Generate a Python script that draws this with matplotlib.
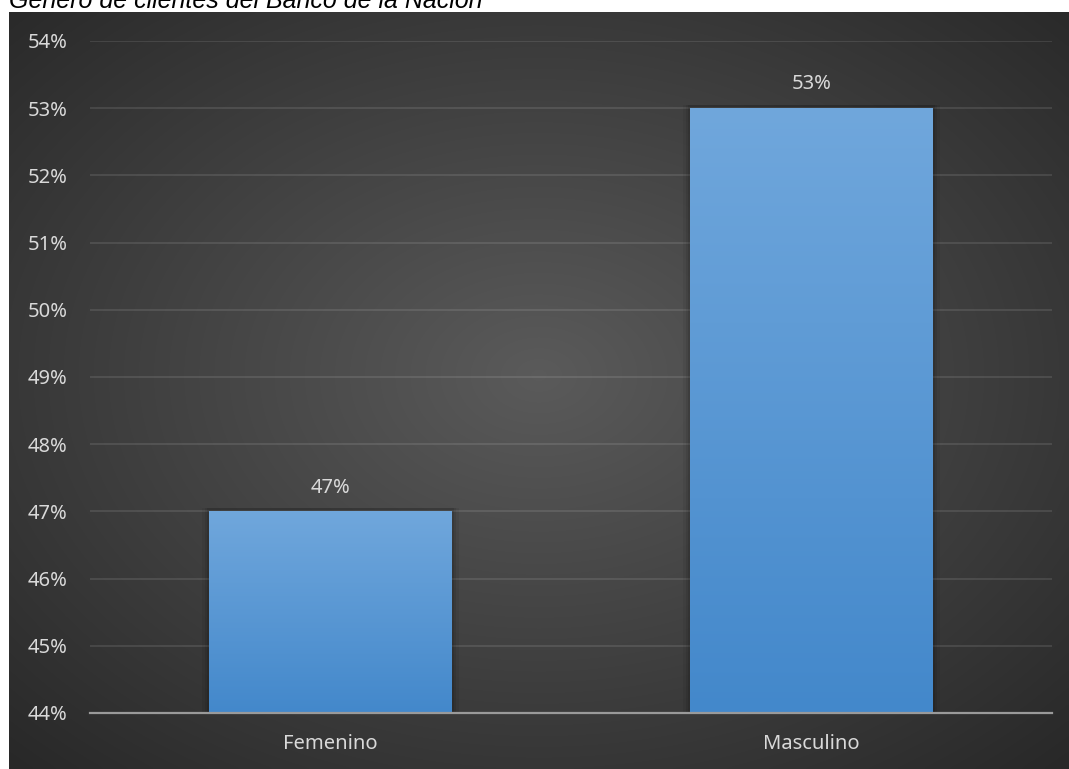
import numpy as np
from matplotlib import pyplot as plt
from matplotlib.ticker import FuncFormatter

categories = ['Femenino', 'Masculino']
values = [47, 53]
title = 'Género de clientes del Banco de la Nación'

W, H = 1069, 769
fig = plt.figure(figsize=(W / 100, H / 100), dpi=100)
fig.patch.set_facecolor('white')

# dark panel with radial gradient
bg = fig.add_axes([9 / W, 0, 1 - 9 / W, 757 / H])
bg.set_axis_off()
yy, xx = np.mgrid[0:1:300j, 0:1:400j]
r = np.sqrt(((xx - 0.5) / 0.8) ** 2 + ((yy - 0.48) / 0.8) ** 2)
shade = np.clip(0.355 - 0.22 * r, 0.15, 0.36)
img = np.dstack([shade, shade, shade])
bg.imshow(img, aspect='auto', extent=[0, 1, 0, 1], interpolation='bicubic')
bg.set_xlim(0, 1)
bg.set_ylim(0, 1)

fig.text(9 / W, 1 - 8 / H, title, fontsize=18, style='italic',
         family='Liberation Sans', color='black', va='baseline', ha='left')

ax = fig.add_axes([90 / W, 1 - 713 / H, (1052 - 90) / W, (713 - 41) / H])
ax.patch.set_alpha(0)
ax.set_ylim(44, 54)
ax.set_xlim(-0.5, 1.5)
ax.set_yticks(range(44, 55))
ax.yaxis.set_major_formatter(FuncFormatter(lambda v, p: f'{v:.0f}%'))
ax.grid(axis='y', color='white', alpha=0.1, linewidth=1.5)
ax.set_axisbelow(True)
for s in ['top', 'right', 'left']:
    ax.spines[s].set_visible(False)
ax.spines['bottom'].set_color('#9a9a9a')
ax.spines['bottom'].set_linewidth(1.6)
ax.spines['bottom'].set_zorder(5)
ax.tick_params(length=0, colors='#d9d9d9', labelsize=14.5)
ax.tick_params(axis='y', pad=16)
ax.tick_params(axis='x', pad=15)

x = np.arange(len(categories))
bw = 0.505
# soft shadow
for k, a in [(0.03, 0.06), (0.018, 0.08), (0.008, 0.1)]:
    ax.bar(x, np.array(values) - 44 + 0.05, bottom=44, width=bw + k,
           color='black', alpha=a, linewidth=0)
bars = ax.bar(x, np.array(values) - 44, bottom=44, width=bw,
              color='#5b9bd5', linewidth=0, zorder=3)
ax.set_xticks(x)
ax.set_xticklabels(categories)
for lab in ax.get_xticklabels() + ax.get_yticklabels():
    lab.set_family('Noto Sans')

top_c = np.array([0x70, 0xa7, 0xdc]) / 255
bot_c = np.array([0x43, 0x88, 0xcb]) / 255
grad = np.linspace(0, 1, 256)[:, None]
gimg = top_c[None, None, :] * (1 - grad[:, :, None]) + bot_c[None, None, :] * grad[:, :, None]
for b, v in zip(bars, values):
    x0 = b.get_x()
    im = ax.imshow(gimg, aspect='auto', extent=[x0, x0 + b.get_width(), 44, v],
                   zorder=4, interpolation='bicubic')
    im.set_clip_path(b)
    ax.annotate(f'{v}%', (b.get_x() + b.get_width() / 2, v), xytext=(0, 10),
                textcoords='offset points', ha='center', va='bottom',
                color='#d9d9d9', fontsize=14.5, family='Noto Sans')

ax.set_xlim(-0.5, 1.5)
ax.set_ylim(44, 54)
plt.savefig('out.png', dpi=100)
